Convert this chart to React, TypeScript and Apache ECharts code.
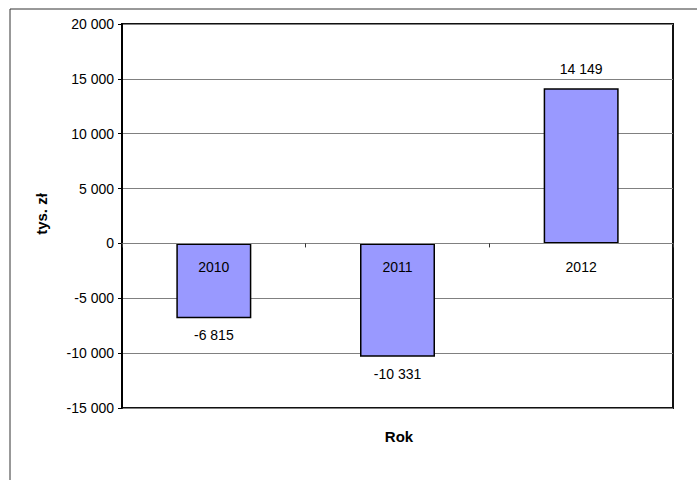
import React, { useEffect, useRef } from "react";
import * as echarts from "echarts";

const categories = ["2010", "2011", "2012"];
const values = [-6815, -10331, 14149];
const yMin = -15000;
const yMax = 20000;
const yStep = 5000;
const xAxisTitle = "Rok";
const yAxisTitle = "tys. zł";

const FONT = "'Liberation Sans', Arial, sans-serif";

function fmt(n: number): string {
  const sign = n < 0 ? "-" : "";
  const s = Math.abs(Math.round(n)).toString();
  const parts: string[] = [];
  for (let i = s.length; i > 0; i -= 3) {
    parts.unshift(s.substring(Math.max(0, i - 3), i));
  }
  return sign + parts.join(" ");
}

export default function App() {
  const ref = useRef<HTMLDivElement>(null);
  useEffect(() => {
    if (!ref.current) return;
    const chart = echarts.init(ref.current, undefined, { renderer: "svg" });
    chart.setOption({
      animation: false,
      backgroundColor: "#fff",
      grid: {
        left: 122,
        top: 24,
        right: 24,
        bottom: 72,
        show: true,
        borderColor: "#111",
        borderWidth: 2,
        containLabel: false,
      },
      xAxis: {
        type: "category",
        data: categories,
        z: 10,
        axisLine: { show: true, onZero: true, lineStyle: { color: "#808080", width: 1 } },
        axisTick: { show: true, length: 4, lineStyle: { color: "#333" } },
        axisLabel: { show: false },
      },
      yAxis: {
        type: "value",
        min: yMin,
        max: yMax,
        interval: yStep,
        axisLine: { show: true, lineStyle: { color: "#000", width: 2 } },
        axisTick: { show: true, length: 4, lineStyle: { color: "#000" } },
        axisLabel: {
          margin: 8,
          fontSize: 14,
          color: "#000",
          fontFamily: FONT,
          formatter: (v: number) => fmt(v),
        },
        splitLine: { show: true, lineStyle: { color: "#808080", width: 1 } },
      },
      graphic: [
        {
          type: "rect",
          shape: { x: 10, y: 9, width: 720, height: 500 },
          style: { fill: "none", stroke: "#333", lineWidth: 1 },
          z: -1,
          silent: true,
        },
        {
          type: "text",
          x: 399,
          y: 436,
          style: {
            text: xAxisTitle,
            font: `bold 15px ${FONT}`,
            fill: "#000",
            textAlign: "center",
            textVerticalAlign: "middle",
          },
        },
        {
          type: "text",
          x: 41,
          y: 214,
          rotation: Math.PI / 2,
          style: {
            text: yAxisTitle,
            font: `bold 15px ${FONT}`,
            fill: "#000",
            textAlign: "center",
            textVerticalAlign: "middle",
          },
        },
      ],
      series: [
        {
          type: "bar",
          barWidth: 75,
          data: values.map((v) => ({
            value: v,
            label: {
              show: true,
              position: v < 0 ? "bottom" : "top",
              distance: v < 0 ? 10 : 12,
              formatter: () => fmt(v),
              fontSize: 14,
              color: "#000",
              fontFamily: FONT,
            },
          })),
          itemStyle: { color: "#9999FF", borderColor: "#000", borderWidth: 1.5 },
        },
        {
          type: "line",
          z: 20,
          data: categories.map(() => 0),
          symbol: "circle",
          symbolSize: 1,
          lineStyle: { width: 0, opacity: 0 },
          itemStyle: { color: "rgba(0,0,0,0)" },
          silent: true,
          label: {
            show: true,
            position: "bottom",
            distance: 16,
            formatter: (p: any) => categories[p.dataIndex],
            fontSize: 14,
            color: "#000",
            fontFamily: FONT,
          },
        },
      ],
    });
    return () => chart.dispose();
  }, []);
  return (
    <div
      ref={ref}
      style={{ position: "absolute", left: 0, top: 0, width: 697, height: 480 }}
    />
  );
}
